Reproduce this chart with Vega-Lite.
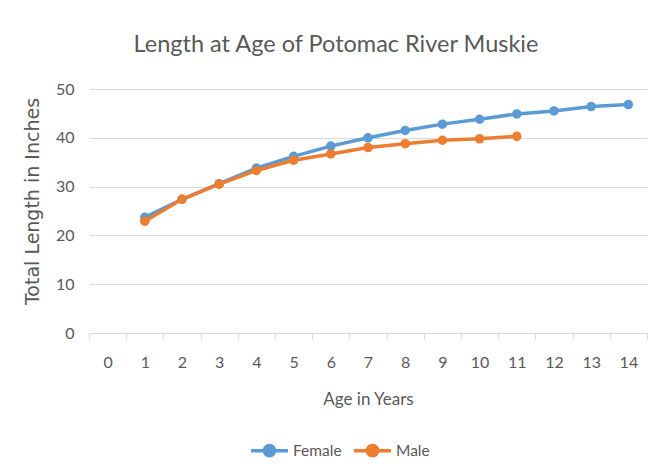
{
  "$schema": "https://vega.github.io/schema/vega-lite/v6.json",
  "width": 558,
  "height": 244,
  "autosize": "none",
  "padding": {"left": 89, "top": 89, "right": 15, "bottom": 143},
  "background": "white",
  "title": {
    "text": "Length at Age of Potomac River Muskie",
    "font": "Lato",
    "fontSize": 23.5,
    "fontWeight": "normal",
    "color": "#595959",
    "anchor": "middle",
    "dx": -32,
    "offset": 25
  },
  "data": {
    "values": [
      {"age": 1, "sex": "Female", "length": 23.7},
      {"age": 2, "sex": "Female", "length": 27.4},
      {"age": 3, "sex": "Female", "length": 30.6},
      {"age": 4, "sex": "Female", "length": 33.8},
      {"age": 5, "sex": "Female", "length": 36.2},
      {"age": 6, "sex": "Female", "length": 38.3},
      {"age": 7, "sex": "Female", "length": 40.0},
      {"age": 8, "sex": "Female", "length": 41.5},
      {"age": 9, "sex": "Female", "length": 42.8},
      {"age": 10, "sex": "Female", "length": 43.8},
      {"age": 11, "sex": "Female", "length": 44.9},
      {"age": 12, "sex": "Female", "length": 45.5},
      {"age": 13, "sex": "Female", "length": 46.4},
      {"age": 14, "sex": "Female", "length": 46.8},
      {"age": 1, "sex": "Male", "length": 22.9},
      {"age": 2, "sex": "Male", "length": 27.4},
      {"age": 3, "sex": "Male", "length": 30.5},
      {"age": 4, "sex": "Male", "length": 33.3},
      {"age": 5, "sex": "Male", "length": 35.4},
      {"age": 6, "sex": "Male", "length": 36.7},
      {"age": 7, "sex": "Male", "length": 38.0},
      {"age": 8, "sex": "Male", "length": 38.8},
      {"age": 9, "sex": "Male", "length": 39.5},
      {"age": 10, "sex": "Male", "length": 39.8},
      {"age": 11, "sex": "Male", "length": 40.3}
    ]
  },
  "encoding": {
    "x": {
      "field": "age",
      "type": "ordinal",
      "scale": {"domain": [0,1,2,3,4,5,6,7,8,9,10,11,12,13,14], "paddingInner": 0, "paddingOuter": 0},
      "axis": {
        "title": "Age in Years",
        "labelAngle": 0,
        "tickBand": "extent",
        "tickSize": 6,
        "tickColor": "#d9d9d9",
        "domainColor": "#d9d9d9",
        "labelPadding": 15,
        "labelFontSize": 16,
        "titlePadding": 21,
        "titleFontSize": 17
      }
    },
    "y": {
      "field": "length",
      "type": "quantitative",
      "scale": {"domain": [0, 50]},
      "axis": {
        "title": "Total Length in Inches",
        "values": [0, 10, 20, 30, 40, 50],
        "domain": false,
        "ticks": false,
        "grid": true,
        "gridColor": "#d9d9d9",
        "labelPadding": 15,
        "labelFontSize": 16,
        "titlePadding": 13,
        "titleY": 112,
        "titleFont": "DejaVu Sans",
        "titleFontSize": 19
      }
    },
    "color": {
      "field": "sex",
      "type": "nominal",
      "scale": {"domain": ["Female", "Male"], "range": ["#5B9BD5", "#ED7D31"]},
      "legend": {
        "title": null,
        "orient": "none",
        "direction": "horizontal",
        "legendX": 160,
        "legendY": 341,
        "symbolType": "M-1,0L1,0M-0.28,0A0.28,0.28 0 1,0 0.28,0A0.28,0.28 0 1,0 -0.28,0Z",
        "symbolSize": 1369,
        "symbolStrokeWidth": 3.5,
        "labelOffset": 3,
        "columnPadding": 5,
        "labelFont": "Lato",
        "labelFontSize": 15.5,
        "labelColor": "#595959"
      }
    }
  },
  "layer": [
    {
      "transform": [{"filter": "datum.sex === 'Female'"}],
      "mark": {"type": "line", "strokeWidth": 3.5, "point": {"filled": true, "size": 90, "opacity": 1}}
    },
    {
      "transform": [{"filter": "datum.sex === 'Male'"}],
      "mark": {"type": "line", "strokeWidth": 3.5, "point": {"filled": true, "size": 90, "opacity": 1}}
    }
  ],
  "config": {
    "view": {"stroke": null},
    "axis": {
      "labelFont": "Lato",
      "labelFontSize": 15,
      "labelColor": "#595959",
      "titleFont": "Lato",
      "titleFontSize": 16,
      "titleFontWeight": "normal",
      "titleColor": "#595959"
    }
  }
}
